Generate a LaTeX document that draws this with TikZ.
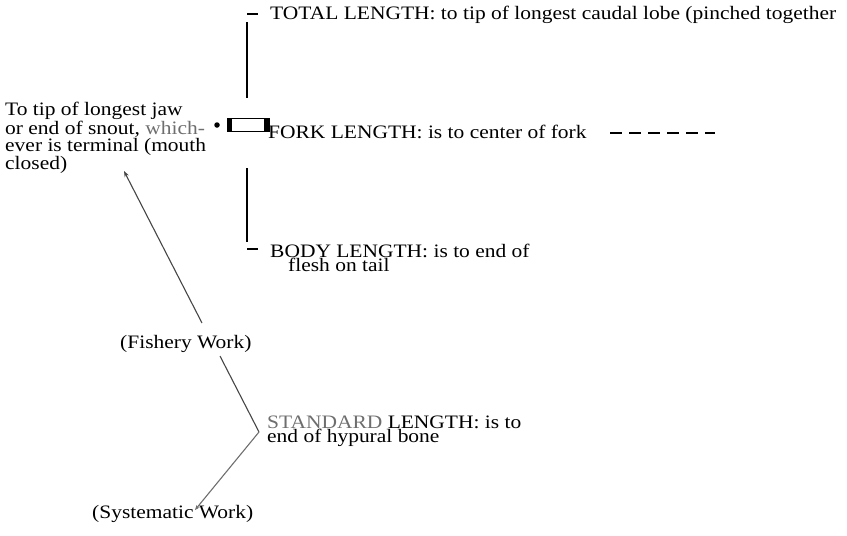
\documentclass[tikz,border=0pt]{standalone}
\usepackage{fontspec}
\setmainfont{Liberation Serif}[FakeStretch=1.13]
\usetikzlibrary{arrows.meta}
\definecolor{fadegray}{RGB}{110,110,110}
\definecolor{linegray}{RGB}{70,70,70}
\tikzset{
  lbl/.style={inner sep=0pt, anchor=base west, font=\fontsize{19pt}{14pt}\selectfont},
  lbltwo/.style={lbl, align=left},
  rule/.style={line width=1.3pt, black},
  tick/.style={line width=1.3pt, black},
  ptr/.style={line width=1.1pt, linegray},
}
\begin{document}
\begin{tikzpicture}[x=1pt,y=-1pt]
\useasboundingbox (0,0) rectangle (847,536);
% texts
\node[lbl] (total) at (270,19) {TOTAL LENGTH: to tip of longest caudal lobe (pinched together};
\node[lbl] (fork) at (268,138) {FORK LENGTH: is to center of fork};
\node[lbltwo] (body) at (270,271) {BODY LENGTH: is to end of\\\hspace*{18pt}flesh on tail};
\node[lbl, align=left, anchor=north west] (jaw) at (5,102) {To tip of longest jaw\\or end of snout, \textcolor{fadegray}{which-}\\ever is terminal (mouth\\closed)};
\node[lbl] (fish) at (120,348) {(Fishery Work)};
\node[lbltwo] (std) at (267,442) {\textcolor{fadegray}{STANDARD} LENGTH: is to\\end of hypural bone};
\node[lbl] (sys) at (92,518) {(Systematic Work)};
% ticks
\coordinate (t1a) at (247,14); \coordinate (t1b) at (258,14);
\draw[tick] (t1a) -- (t1b);
\coordinate (t2a) at (247,249); \coordinate (t2b) at (258,249);
\draw[tick] (t2a) -- (t2b);
% vertical rules
\coordinate (v1a) at (247,22); \coordinate (v1b) at (247,98);
\draw[rule] (v1a) -- (v1b);
\coordinate (v2a) at (247,168); \coordinate (v2b) at (247,242);
\draw[rule] (v2a) -- (v2b);
% bullet and box
\node[circle, fill=black, inner sep=0pt, minimum size=5.5pt] (dot) at (217,125) {};
\node[draw=black, line width=0.8pt, minimum width=42pt, minimum height=13pt, inner sep=0pt] (box) at (248,124.5) {};
\fill[black] (box.north west) rectangle ++(5,13);
\fill[black] (box.north east) rectangle ++(-5,13);
% dashed line
\coordinate (d1) at (610,133); \coordinate (d2) at (715,133);
\draw[line width=1.4pt, dash pattern=on 12pt off 7pt] (d1) -- (d2);
% pointers
\coordinate (ja) at (124,171); \coordinate (jb) at (202,323);
\draw[ptr, -{Stealth[length=6pt,width=4.5pt]}] (jb) -- (ja);
\coordinate (s1) at (220,356); \coordinate (s2) at (259,432); \coordinate (s3) at (195,510);
\draw[ptr] (s1) -- (s2);
\draw[ptr, fadegray, -{Stealth[length=5pt,width=4pt]}] (s2) -- (s3);
\end{tikzpicture}
\end{document}
